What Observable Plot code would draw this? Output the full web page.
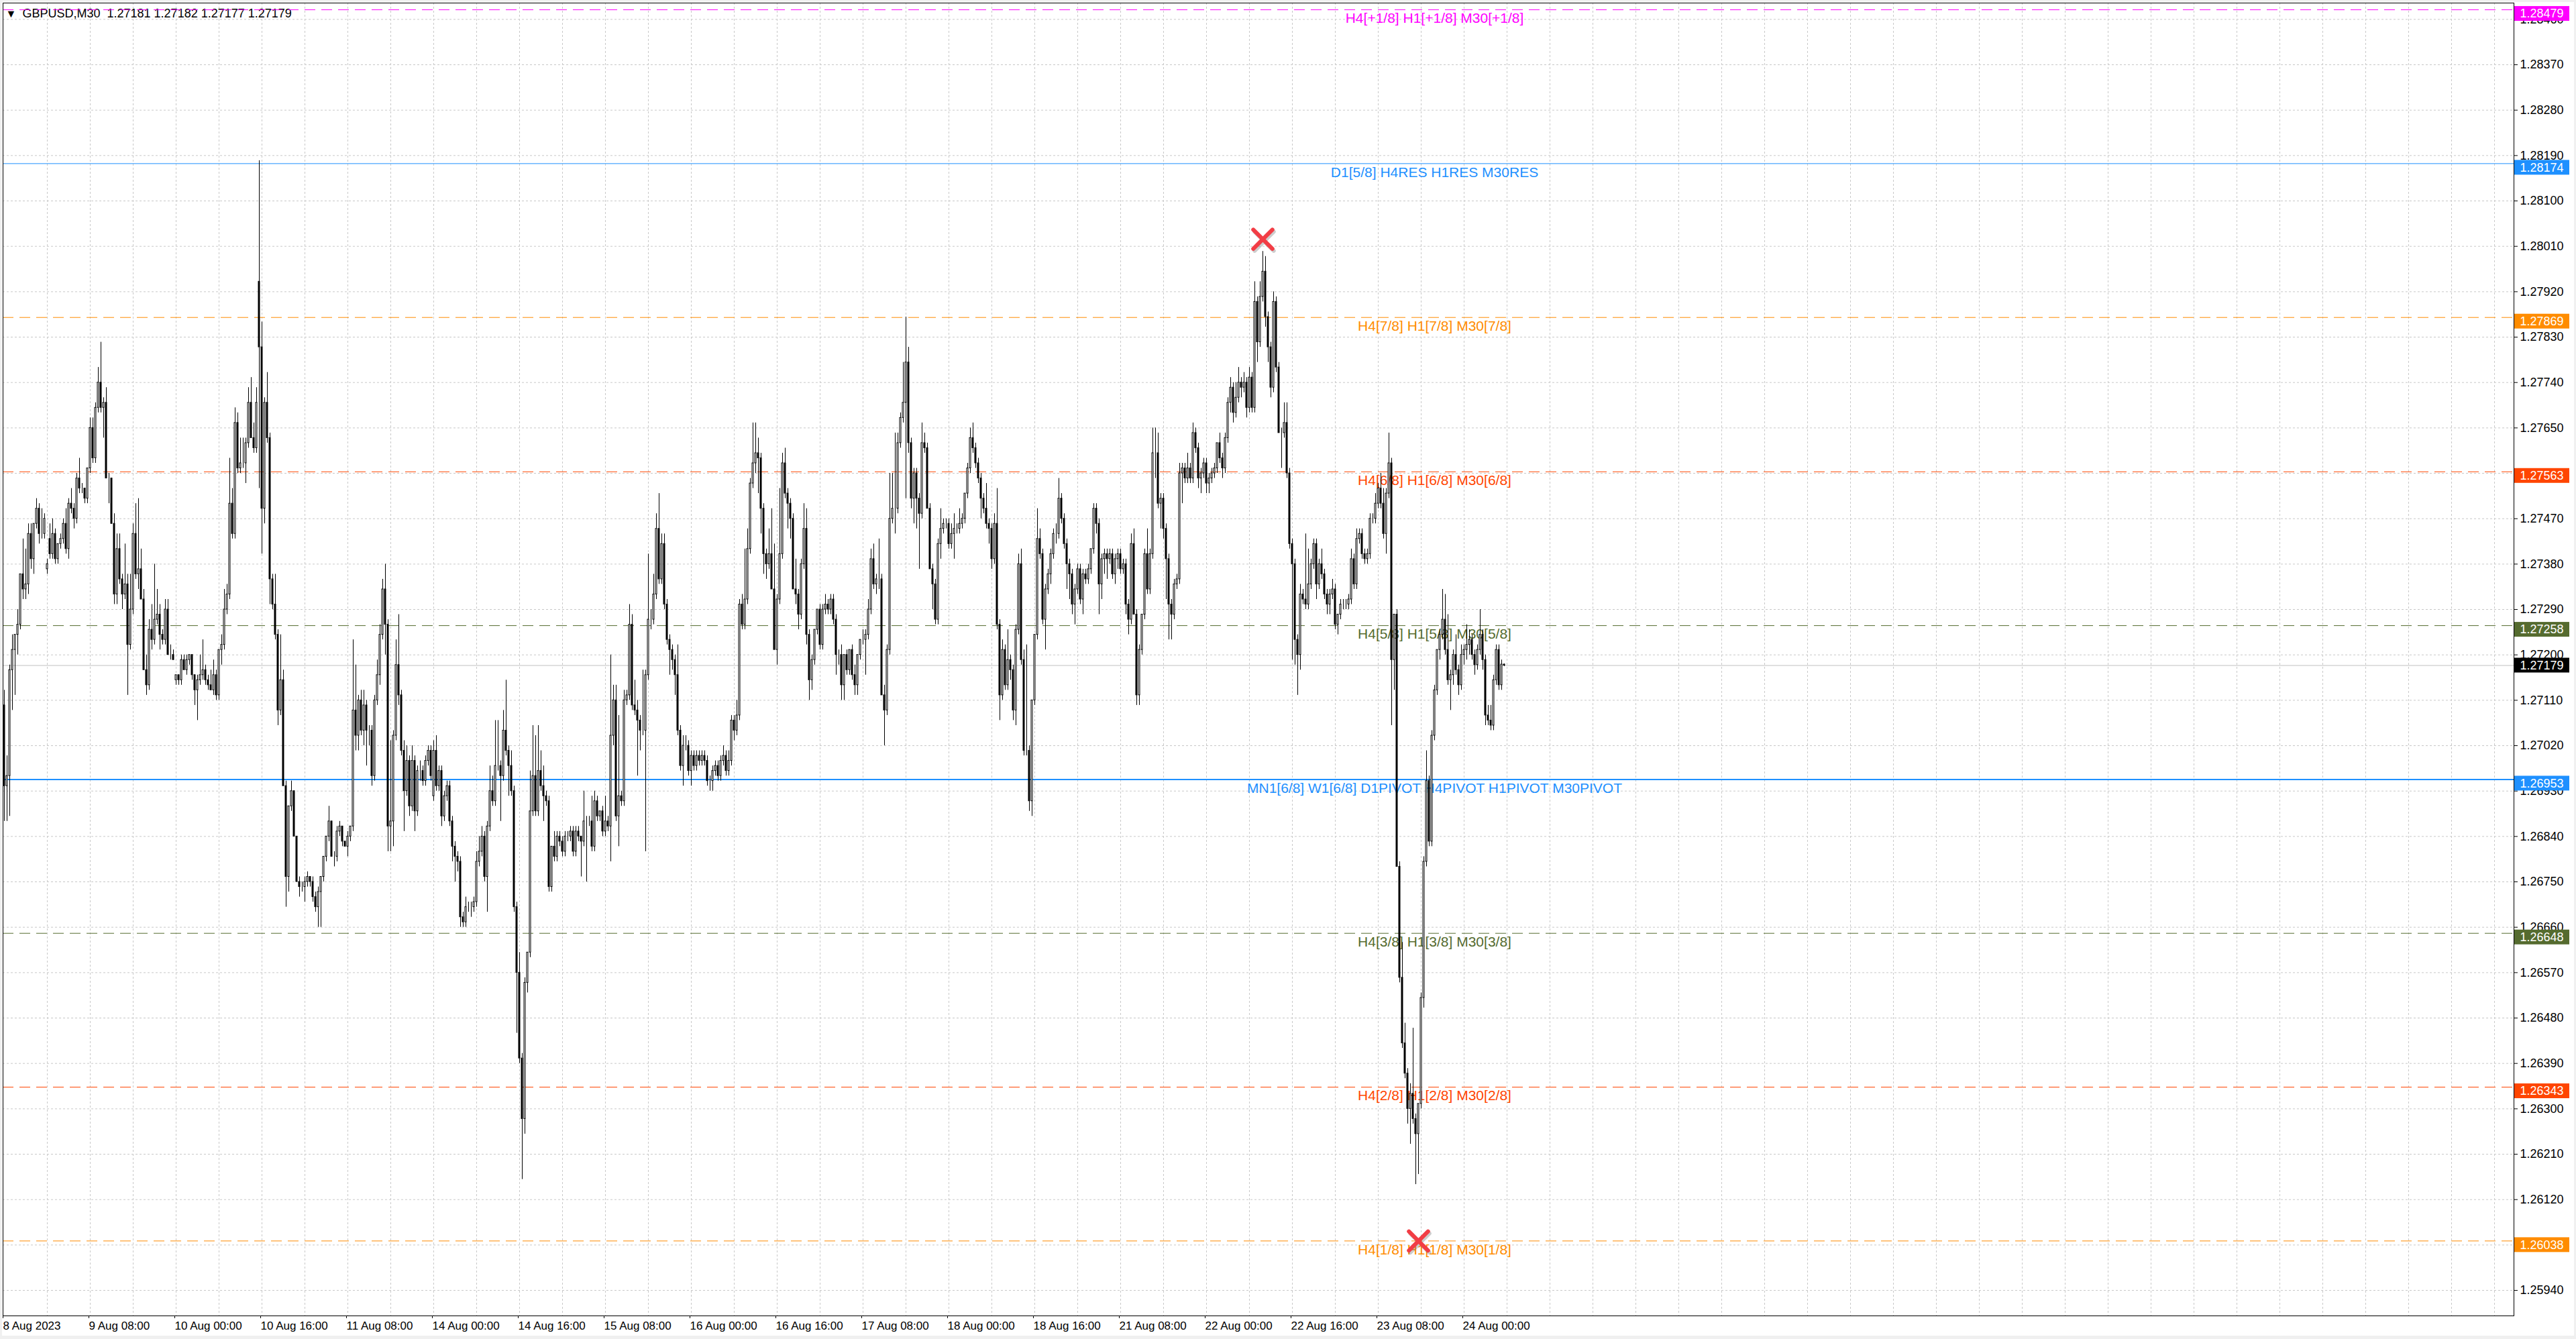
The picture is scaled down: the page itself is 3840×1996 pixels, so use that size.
<!DOCTYPE html>
<html><head><meta charset="utf-8">
<script src="https://cdn.jsdelivr.net/npm/d3@7"></script>
<script src="https://cdn.jsdelivr.net/npm/@observablehq/plot@0.6"></script>
<style>
html,body{margin:0;padding:0;background:#f0f0f0;overflow:hidden;width:3840px;height:1996px}
#chart{position:absolute;left:3px;top:3px;width:3834px;height:1988px}
svg text{white-space:pre}
</style></head><body><div id="chart"></div>
<script>
// GBPUSD M30 candles, values in pips above 1.26000 (bar 0 = 8 Aug 2023 16:00)
const openPips = [
110,94,96,117,121,124,126,136,133,134,144,139,146,149,144,144,137,143,140,144,
139,142,143,146,141,150,149,147,155,153,153,151,157,165,159,169,174,169,170,155,
155,146,132,141,135,132,134,122,129,144,136,137,131,117,114,125,123,127,128,124,
123,129,120,120,115,116,115,119,117,119,120,116,113,115,116,117,115,114,113,116,
112,121,122,129,132,150,144,166,157,158,158,162,170,163,161,194,181,149,170,163,
135,130,124,109,115,94,76,90,93,84,75,74,74,75,76,75,72,70,73,76,
80,84,87,80,80,85,86,83,82,84,86,109,104,111,105,110,105,105,96,111,
116,124,133,126,86,87,104,118,112,101,93,99,90,99,89,97,97,95,99,101,
92,101,94,97,88,92,94,87,82,80,79,68,67,70,70,70,71,79,81,84,
76,86,93,91,98,98,96,105,101,98,93,70,57,40,28,55,61,89,96,89,
97,94,92,91,74,82,80,84,83,81,84,84,85,81,85,84,83,87,87,87,
82,91,88,89,85,87,86,104,111,88,92,91,111,112,126,110,109,107,105,105,
116,127,127,132,145,135,142,130,123,121,119,116,105,98,102,102,97,100,98,100,
99,100,99,95,95,97,98,96,99,100,97,99,107,105,108,130,126,131,141,154,
158,160,159,149,140,138,140,133,121,131,140,158,152,150,147,133,132,128,138,145,
124,115,119,125,129,122,129,130,129,131,127,120,120,114,120,117,121,116,114,120,
123,123,124,129,139,134,135,135,112,109,121,147,149,149,162,167,170,178,162,151,
156,151,148,162,161,149,137,134,127,142,145,146,146,142,144,145,145,146,147,152,
157,163,161,158,155,151,149,146,145,139,146,126,112,121,114,119,117,109,125,138,
119,101,101,91,111,124,143,140,127,133,136,140,144,144,151,147,142,138,136,130,
133,137,131,136,135,137,141,149,146,134,139,140,139,140,136,139,140,137,138,130,
127,142,128,112,121,128,140,133,140,160,160,150,151,145,139,130,128,134,135,156,
157,155,157,155,164,161,155,156,158,154,155,156,157,162,159,157,163,170,173,168,
171,174,173,174,169,175,169,190,182,191,196,187,181,173,190,177,164,164,166,156,
142,138,123,120,132,131,130,134,138,142,134,138,136,132,130,132,133,126,128,130,
130,130,131,139,134,143,144,140,139,140,147,147,150,153,150,144,152,158,119,128,
78,56,43,37,30,33,28,25,31,52,79,95,83,104,113,121,124,127,121,115,
116,120,117,114,120,121,122,123,120,118,121,124,119,108,107,106,115,121,114,118.1];
const highPips = [
113,100,118,124,124,129,136,143,141,146,146,146,151,150,149,148,139,146,147,145,
142,144,147,149,151,153,150,156,159,154,153,157,167,167,170,177,182,171,173,156,
155,148,144,144,136,142,136,136,146,150,151,141,133,120,127,130,138,133,130,125,
131,131,122,121,116,116,120,120,120,120,120,116,116,120,123,118,116,117,119,117,
121,124,133,134,159,153,169,168,163,163,163,173,175,166,173,218,186,171,176,164,
136,136,125,124,117,95,90,95,93,84,76,75,76,77,76,76,73,74,76,80,
84,90,87,81,86,87,86,83,85,86,123,118,112,113,113,111,106,106,112,119,
126,135,138,127,103,105,123,128,113,103,102,100,102,100,98,99,98,100,102,102,
103,104,98,98,93,95,95,88,83,81,80,69,72,71,71,72,81,84,86,85,
87,98,96,107,107,99,109,115,102,101,94,71,61,41,56,61,97,106,104,106,
101,98,93,92,82,85,85,85,84,85,85,86,86,86,86,84,93,88,88,92,
93,92,89,90,92,88,120,114,114,108,93,113,113,130,128,115,111,108,117,117,
140,129,136,148,152,144,144,131,124,122,120,122,106,104,104,103,101,101,101,101,
101,101,100,96,98,99,99,100,102,101,101,108,108,111,131,132,141,145,155,166,
166,163,160,150,141,145,149,142,132,153,160,161,153,151,148,139,133,139,150,149,
125,120,125,129,130,130,132,131,132,132,128,121,122,120,121,121,122,118,120,123,
125,125,131,141,142,136,143,136,114,122,156,156,164,164,168,178,187,181,163,157,
157,152,166,164,162,150,138,135,143,149,147,147,147,146,148,146,149,148,152,158,
165,166,162,159,156,152,154,147,146,148,153,127,123,122,125,120,118,126,140,141,
121,122,102,111,124,149,145,141,134,137,141,145,146,155,152,148,143,139,137,134,
138,138,137,137,138,141,150,150,147,140,141,141,141,141,140,141,141,139,139,131,
144,145,129,122,128,141,145,141,165,165,164,152,152,146,140,131,135,136,158,158,
158,160,158,166,165,162,157,159,159,156,157,158,162,164,160,164,171,175,174,174,
177,175,176,175,177,176,194,191,194,200,199,188,182,192,191,178,165,170,170,157,
143,139,124,134,133,144,141,139,143,143,139,141,137,133,133,135,134,128,131,131,
131,132,141,140,145,145,145,141,141,148,148,152,154,156,153,153,164,159,128,129,
79,63,47,38,35,46,29,31,53,80,101,96,105,114,121,125,133,132,128,117,
121,124,118,122,122,126,125,124,121,122,129,125,120,110,110,116,122,122,119,118.2];
const lowPips = [
87,87,88,109,112,120,125,131,131,132,137,136,145,142,143,143,136,139,139,138,
138,141,142,140,139,148,145,146,152,152,150,150,156,158,158,168,168,163,155,150,
146,130,130,134,129,131,112,121,128,135,133,131,117,112,113,121,122,126,121,122,
122,120,119,119,114,114,114,117,116,118,115,110,107,114,115,114,113,113,112,111,
111,118,121,128,131,143,143,156,156,157,154,161,163,160,160,153,140,146,162,130,
129,123,106,108,94,70,73,89,84,75,72,73,71,74,74,71,69,66,66,75,
79,83,80,78,79,84,82,82,80,83,85,101,101,104,102,98,102,94,95,110,
114,123,120,81,81,82,103,110,100,85,92,88,89,85,88,95,94,94,98,95,
91,93,93,86,87,91,86,79,75,77,66,66,66,69,68,69,70,78,80,75,
69,85,90,90,97,87,95,100,92,92,69,45,39,16,25,53,60,88,88,88,
93,87,90,73,73,79,79,82,80,80,83,83,80,80,83,76,82,75,86,81,
81,87,87,84,84,85,79,102,87,82,90,90,110,111,109,108,96,101,104,81,
115,125,126,131,134,134,129,122,116,117,112,104,97,94,101,96,94,97,97,98,
98,98,94,93,93,96,95,95,98,96,96,98,103,104,107,125,125,130,140,153,
156,152,144,136,135,137,133,121,118,130,139,151,145,143,133,130,125,127,137,122,
111,113,118,124,121,121,128,128,128,126,116,118,111,111,116,116,115,112,112,119,
122,116,123,128,133,132,133,112,102,108,120,146,144,148,161,166,151,160,149,146,
145,137,147,160,149,137,129,126,126,139,144,145,141,141,139,144,144,145,146,151,
156,160,157,154,147,148,145,142,137,138,125,107,111,113,113,115,107,106,124,118,
100,100,89,88,110,123,139,126,121,132,134,139,142,143,146,141,133,131,128,126,
132,130,128,134,134,136,140,144,128,131,136,135,138,135,134,137,136,136,128,124,
126,128,110,110,120,127,132,132,139,155,149,145,143,131,123,123,127,133,134,150,
154,154,154,154,160,153,152,155,152,152,154,155,156,158,155,156,162,168,166,167,
170,171,172,167,168,168,168,178,181,190,185,178,171,172,176,164,157,163,155,141,
119,118,112,117,130,129,129,133,137,131,133,135,131,128,128,131,125,124,127,129,
129,129,130,133,133,142,139,138,138,139,146,146,149,149,143,140,151,106,113,78,
55,42,36,27,23,27,15,17,30,50,78,82,82,103,112,119,123,120,114,109,
114,116,112,113,118,119,120,119,116,117,120,117,106,106,105,105,114,113,113,117.7];
const closePips = [
94,96,117,121,124,126,136,133,134,144,139,146,149,144,144,147,138,140,144,139,
142,143,146,141,150,149,147,155,153,153,151,157,165,159,169,174,169,170,155,155,
146,132,141,135,132,134,122,129,144,136,137,131,117,114,125,123,127,128,124,123,
129,120,120,119,116,115,119,117,119,120,116,113,115,116,117,115,114,113,116,112,
121,122,129,132,150,144,166,157,158,158,162,170,163,161,170,181,149,170,163,135,
130,124,109,115,94,76,90,93,84,75,74,74,75,76,75,72,70,73,76,80,
84,87,80,80,85,86,83,82,84,86,109,104,111,105,110,105,105,96,111,116,
124,133,126,86,87,104,118,112,101,93,99,90,99,89,97,97,95,99,101,96,
101,94,97,88,92,94,87,82,80,79,68,67,70,70,70,71,79,81,84,76,
86,93,91,98,98,96,105,101,98,93,70,57,40,28,55,61,89,96,89,97,
94,92,91,74,82,80,84,83,81,84,84,85,81,85,84,83,87,87,87,82,
91,88,89,85,87,86,104,111,88,92,91,111,112,126,110,109,107,105,105,116,
127,127,132,145,135,142,130,123,121,119,116,105,98,102,102,97,100,98,100,99,
100,99,95,95,97,98,96,99,100,97,99,107,105,108,130,126,131,141,154,158,
160,159,149,140,138,140,133,121,131,140,158,152,150,147,133,132,128,138,145,124,
115,119,125,129,122,129,130,129,131,127,120,120,114,120,117,121,116,114,120,123,
123,124,129,139,134,135,135,112,109,121,147,149,149,162,167,170,178,162,151,156,
151,148,162,161,149,137,134,127,142,145,146,146,142,144,145,145,146,147,152,157,
163,161,158,155,151,149,146,145,139,146,126,112,121,114,119,117,109,125,138,119,
101,101,91,111,124,143,140,127,133,136,140,144,144,151,147,142,138,136,130,133,
137,131,136,135,137,141,149,146,134,139,140,139,140,136,139,140,137,138,130,127,
142,128,112,121,128,140,133,140,160,160,150,151,145,139,130,128,134,135,156,157,
155,157,155,164,161,155,156,158,154,155,156,157,162,159,157,163,170,173,168,171,
174,173,174,169,175,169,190,182,191,196,187,181,173,190,177,164,164,166,156,142,
138,123,120,132,131,130,134,138,142,134,138,136,132,130,132,133,126,128,130,130,
130,131,139,134,143,144,140,139,140,147,147,150,153,150,144,152,158,119,128,78,
56,43,37,30,33,28,25,31,52,79,95,83,104,113,121,124,127,121,115,116,
120,117,114,120,121,122,123,120,118,121,124,119,108,107,106,115,121,114,118.1,117.9];

// Murrey / pivot levels
const levelPrices = [1.28479, 1.28174, 1.27869, 1.27563, 1.27258, 1.26953, 1.26648, 1.26343, 1.26038];
const levelNames = [
  "H4[+1/8] H1[+1/8] M30[+1/8]",
  "D1[5/8] H4RES H1RES M30RES",
  "H4[7/8] H1[7/8] M30[7/8]",
  "H4[6/8] H1[6/8] M30[6/8]",
  "H4[5/8] H1[5/8] M30[5/8]",
  "MN1[6/8] W1[6/8] D1PIVOT H4PIVOT H1PIVOT M30PIVOT",
  "H4[3/8] H1[3/8] M30[3/8]",
  "H4[2/8] H1[2/8] M30[2/8]",
  "H4[1/8] H1[1/8] M30[1/8]"];
const levelColors = ["#ff00ff", "#1e90ff", "#ff8c00", "#ff4500", "#556b2f", "#1e90ff", "#556b2f", "#ff4500", "#ff8c00"];
const levelDashed = [true, false, true, true, true, false, true, true, true];
const levelWidths = [1, 1, 1, 1, 1, 2, 1, 1, 1];

const lastPrice = 1.27179;
const headerText = "GBPUSD,M30  1.27181 1.27182 1.27177 1.27179";

// red cross markers (bar index, price)
const markerBars = [469, 527];
const markerPrices = [1.28024, 1.26038];

// price axis ticks
const priceTicks = [1.2594,1.2603,1.2612,1.2621,1.2630,1.2639,1.2648,1.2657,1.2666,1.2675,1.2684,1.2693,
  1.2702,1.2711,1.2720,1.2729,1.2738,1.2747,1.2756,1.2765,1.2774,1.2783,1.2792,1.2801,1.2810,1.2819,1.2828,1.2837,1.2846];
// time axis labels (bar index -> text)
const timeBars = [0,32,64,96,128,160,192,224,256,288,320,352,384,416,448,480,512,544];
const timeLabels = ["8 Aug 2023","9 Aug 08:00","10 Aug 00:00","10 Aug 16:00","11 Aug 08:00","14 Aug 00:00",
  "14 Aug 16:00","15 Aug 08:00","16 Aug 00:00","16 Aug 16:00","17 Aug 08:00","18 Aug 00:00","18 Aug 16:00",
  "21 Aug 08:00","22 Aug 00:00","22 Aug 16:00","23 Aug 08:00","24 Aug 00:00"];

const n = closePips.length;
if (openPips.length !== n || highPips.length !== n || lowPips.length !== n)
  throw new Error(`length mismatch o${openPips.length} h${highPips.length} l${lowPips.length} c${n}`);

const pip = 0.0001, base = 1.26;
const bars = closePips.map((c, i) => ({
  i, open: base + openPips[i] * pip, high: base + highPips[i] * pip,
  low: base + lowPips[i] * pip, close: base + c * pip
}));
const levels = levelPrices.map((p, k) => ({price: p, name: levelNames[k], color: levelColors[k], dashed: levelDashed[k], width: levelWidths[k]}));
const markers = markerBars.map((b, k) => ({i: b, price: markerPrices[k]}));
const gridBars = d3.range(16, 936, 16);

const xMax = 935.25;
const labelBar = 533;
const font = "'Liberation Sans', Arial, sans-serif";

const chart = Plot.plot({
  width: 3834, height: 1988,
  marginLeft: 1, marginTop: 1, marginRight: 90, marginBottom: 30,
  x: {domain: [-0.5, xMax]},
  y: {domain: [1.258895, 1.284924]},
  style: {background: "white", fontFamily: font, fontSize: "18px", color: "black", overflow: "visible"},
  marks: [
    Plot.ruleY(priceTicks, {stroke: "#c8c8c8", strokeDasharray: "3,3"}),
    Plot.ruleX(gridBars, {stroke: "#c8c8c8", strokeDasharray: "3,3"}),
    Plot.text([headerText], {frameAnchor: "top-left", dx: 29, dy: 9, lineAnchor: "top", textAnchor: "start", fontSize: 18, fill: "black"}),
    Plot.text(["▼"], {frameAnchor: "top-left", dx: 12, dy: 16, lineAnchor: "middle", textAnchor: "middle", fontSize: 16, fill: "black"}),
    Plot.ruleY(levels.filter(d => d.dashed), {y: "price", stroke: "color", strokeDasharray: "16,9"}),
    Plot.ruleY(levels.filter(d => !d.dashed), {y: "price", stroke: "color", strokeWidth: "width"}),
    Plot.ruleY([lastPrice], {stroke: "#c0c0c0"}),
    Plot.text(levels, {x: () => labelBar, y: "price", text: "name", fill: "color", fontSize: 21, dy: 13, lineAnchor: "middle", textAnchor: "middle"}),
    Plot.ruleX(bars, {x: "i", y1: "low", y2: "high", stroke: "black"}),
    Plot.rect(bars, {x1: d => d.i - 0.25, x2: d => d.i + 0.25, y1: "open", y2: "close",
      fill: d => d.close > d.open ? "white" : "black", stroke: "black", strokeWidth: 1}),
    Plot.dot(markers, {x: "i", y: "price", symbol: "times", r: 13, stroke: "#707070", strokeOpacity: 0.35, strokeWidth: 6, strokeLinecap: "round", dx: 2, dy: 3}),
    Plot.dot(markers, {x: "i", y: "price", symbol: "times", r: 13, stroke: "#f23d45", strokeWidth: 6, strokeLinecap: "round"}),
    Plot.frame({stroke: "black"}),
    Plot.axisY({anchor: "right", ticks: priceTicks, tickFormat: d => d.toFixed(5), tickSize: 5, tickPadding: 4, fontSize: 18, label: null, fill: "black", stroke: "black"}),
    Plot.axisX({anchor: "bottom", ticks: timeBars, tickFormat: d => timeLabels[timeBars.indexOf(d)], tickSize: 4, tickPadding: 4,
      textAnchor: "start", dx: -2, fontSize: 17, label: null, fill: "black", stroke: "black"}),
    // level price tags on the price scale
    Plot.rect(levels, {x1: () => xMax, x2: () => xMax, y1: "price", y2: "price", fill: "color",
      insetLeft: 1, insetRight: -83, insetTop: -5, insetBottom: -17}),
    Plot.text(levels, {x: () => xMax, y: "price", text: d => d.price.toFixed(5), dx: 9, dy: 6, textAnchor: "start", lineAnchor: "middle", fill: "white", fontSize: 18}),
    // current bid tag
    Plot.rect([lastPrice], {x1: () => xMax, x2: () => xMax, y1: d => d, y2: d => d, fill: "black",
      insetLeft: 1, insetRight: -83, insetTop: -11, insetBottom: -11}),
    Plot.text([lastPrice], {x: () => xMax, y: d => d, text: d => d.toFixed(5), dx: 9, textAnchor: "start", lineAnchor: "middle", fill: "white", fontSize: 18})
  ]
});
document.getElementById("chart").appendChild(chart);
</script></body></html>
